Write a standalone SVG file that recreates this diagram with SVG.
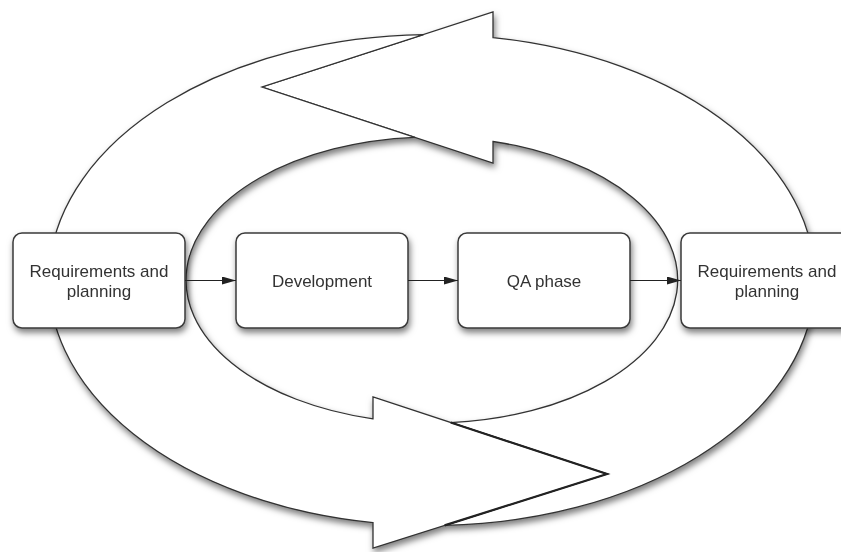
<svg xmlns="http://www.w3.org/2000/svg" width="841" height="552" viewBox="0 0 841 552">
  <defs>
    <filter id="sh" x="-10%" y="-10%" width="125%" height="130%">
      <feDropShadow dx="1.5" dy="4" stdDeviation="3" flood-color="#000" flood-opacity="0.5"/>
    </filter>
    <marker id="ah" viewBox="0 0 14 8" refX="14" refY="4" markerWidth="14" markerHeight="8" markerUnits="userSpaceOnUse" orient="auto">
      <path d="M0,0 L14,4 L0,8 Z" fill="#222"/>
    </marker>
    <style>
      .band { fill: #fff; stroke: #333; stroke-width: 1.3; stroke-linejoin: miter; }
      .box { fill: #fff; stroke: #3a3a3a; stroke-width: 1.5; }
      .lbl { font-family: "Liberation Sans", Arial, Helvetica, sans-serif; font-size: 17px; fill: #333; text-anchor: middle; }
      .conn { fill: none; stroke: #222; stroke-width: 1.2; }
    </style>
  </defs>
  <rect x="0" y="0" width="841" height="552" fill="#fff"/>

  <g id="cycle-arrows" filter="url(#sh)">
    <path id="arrow-top" class="band" d="M262,87 L493,12 L493,37.63 A383,245.5 0 0 1 444.6,525.36 L607,474 L450.7,422.56 A246,143 0 0 0 493,141.5 L493,163 Z"/>
    <path id="arrow-bottom" class="band" d="M607,474 L373,548 L373,522.57 A383,245.5 0 0 1 423.6,34.54 L262,87 L415,137.35 A246,143 0 0 0 373,418.83 L373,397 Z"/>
  </g>
  <polyline points="450.7,422.56 607,474 444.6,525.36" fill="none" stroke="#222" stroke-width="2.2" stroke-linejoin="miter"/>

  <g id="node-req1" filter="url(#sh)">
    <rect class="box" x="13" y="233" width="172" height="95" rx="9"/>
    <text class="lbl" x="99" y="277">Requirements and</text>
    <text class="lbl" x="99" y="297">planning</text>
  </g>
  <g id="node-dev" filter="url(#sh)">
    <rect class="box" x="236" y="233" width="172" height="95" rx="9"/>
    <text class="lbl" x="322" y="287">Development</text>
  </g>
  <g id="node-qa" filter="url(#sh)">
    <rect class="box" x="458" y="233" width="172" height="95" rx="9"/>
    <text class="lbl" x="544" y="287">QA phase</text>
  </g>
  <g id="node-req2" filter="url(#sh)">
    <rect class="box" x="681" y="233" width="172" height="95" rx="9"/>
    <text class="lbl" x="767" y="277">Requirements and</text>
    <text class="lbl" x="767" y="297">planning</text>
  </g>

  <g id="connectors">
    <line class="conn" x1="185" y1="280.5" x2="236" y2="280.5" marker-end="url(#ah)"/>
    <line class="conn" x1="408" y1="280.5" x2="458" y2="280.5" marker-end="url(#ah)"/>
    <line class="conn" x1="630" y1="280.5" x2="681" y2="280.5" marker-end="url(#ah)"/>
  </g>
</svg>
